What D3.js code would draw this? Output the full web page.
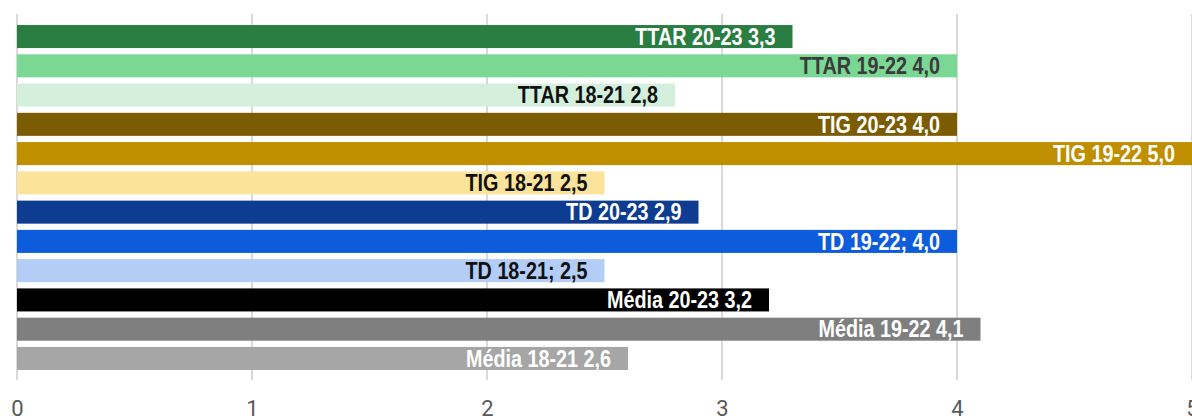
<!DOCTYPE html>
<html>
<head>
<meta charset="utf-8">
<script src="https://cdn.jsdelivr.net/npm/d3@7"></script>
<style>
  html, body { margin: 0; padding: 0; background: #fff; }
  svg { display: block; }
</style>
</head>
<body>
<svg id="chart" width="1192" height="416"></svg>
<script>
// Indicator groups per three-year period, top to bottom
const categories = [
  "TTAR 20-23", "TTAR 19-22", "TTAR 18-21",
  "TIG 20-23", "TIG 19-22", "TIG 18-21",
  "TD 20-23", "TD 19-22", "TD 18-21",
  "Média 20-23", "Média 19-22", "Média 18-21"
];
const values = [3.3, 4.0, 2.8, 4.0, 5.0, 2.5, 2.9, 4.0, 2.5, 3.2, 4.1, 2.6];
// Separator between name and value as written in each label
const separators = [" ", " ", " ", " ", " ", " ", " ", "; ", "; ", " ", " ", " "];
const barColors = [
  "#2a7e41", "#7bd794", "#d4f0dc",
  "#7b5c02", "#bf8f00", "#fce39b",
  "#0d3c91", "#0d5cdb", "#b3cdf6",
  "#000000", "#7f7f7f", "#a6a6a6"
];
const labelColors = [
  "#ffffff", "#3a3a3a", "#111111",
  "#ffffff", "#ffffff", "#111111",
  "#ffffff", "#ffffff", "#111111",
  "#ffffff", "#ffffff", "#ffffff"
];
const tickValues = [0, 1, 2, 3, 4, 5];

const svg = d3.select("#chart");
const left = 17, right = 1192, gridTop = 14, gridBottom = 380;

const x = d3.scaleLinear().domain([0, 5]).range([left, right]);
const y = d3.scaleBand().domain(categories).range([21.9, 373.1]).paddingInner(0.213).paddingOuter(0.107);

const fmt = v => d3.format(".1f")(v).replace(".", ",");

// Vertical gridlines
svg.append("g")
  .selectAll("line")
  .data(tickValues)
  .join("line")
  .attr("x1", d => x(d)).attr("x2", d => x(d))
  .attr("y1", gridTop).attr("y2", gridBottom)
  .attr("stroke", "#d9d9d9")
  .attr("stroke-width", 2);

// Bars
svg.append("g")
  .selectAll("rect")
  .data(values)
  .join("rect")
  .attr("x", x(0))
  .attr("y", (d, i) => y(categories[i]))
  .attr("width", d => x(d) - x(0))
  .attr("height", y.bandwidth())
  .attr("fill", (d, i) => barColors[i]);

// Value labels inside the end of each bar, in a narrow bold face
svg.append("g")
  .selectAll("text")
  .data(values)
  .join("text")
  .attr("transform", (d, i) =>
    `translate(${x(d) - 17}, ${y(categories[i]) + y.bandwidth() / 2}) scale(0.86, 1)`)
  .attr("dy", "0.36em")
  .attr("text-anchor", "end")
  .attr("font-family", "'Liberation Sans', Arial, sans-serif")
  .attr("font-weight", "bold")
  .attr("font-size", "23px")
  .attr("fill", (d, i) => labelColors[i])
  .text((d, i) => categories[i] + separators[i] + fmt(d));

// Bottom axis labels
const axis = d3.axisBottom(x).tickValues(tickValues).tickSize(0).tickPadding(0).tickFormat(d3.format("d"));
const ag = svg.append("g").attr("transform", `translate(0, 400)`).call(axis);
ag.select(".domain").remove();
ag.selectAll("text")
  .attr("font-family", "Roboto, 'Liberation Sans', sans-serif")
  .attr("font-size", "22px")
  .attr("fill", "#595959")
  .attr("dy", "0.71em");
</script>
</body>
</html>
